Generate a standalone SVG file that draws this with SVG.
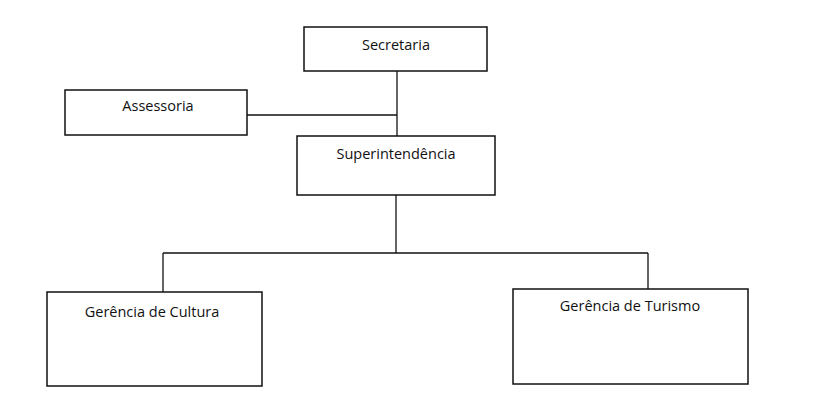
<svg xmlns="http://www.w3.org/2000/svg" width="826" height="414" viewBox="0 0 826 414">
<style>
rect{fill:#fff;stroke:#111;stroke-width:1.5}
text{font-family:"Open Sans","Liberation Sans",sans-serif;font-size:14.5px;fill:#111;text-anchor:middle}
#connectors line{stroke:#111;stroke-width:1.3}
</style>
<rect x="0" y="0" width="826" height="414" style="stroke:none"/>
<g id="connectors">
<line x1="397" y1="71" x2="397" y2="136"/>
<line x1="247" y1="115" x2="397" y2="115"/>
<line x1="396" y1="195" x2="396" y2="253"/>
<line x1="163" y1="253" x2="648" y2="253"/>
<line x1="163" y1="253" x2="163" y2="292"/>
<line x1="648" y1="253" x2="648" y2="289"/>
</g>
<g id="secretaria"><rect x="304" y="27" width="183" height="44"/><text x="396" y="50">Secretaria</text></g>
<g id="assessoria"><rect x="65" y="90" width="182" height="45"/><text x="158" y="111">Assessoria</text></g>
<g id="superintendencia"><rect x="297" y="136" width="198" height="59"/><text x="396" y="159">Superintendência</text></g>
<g id="cultura"><rect x="47" y="292" width="215" height="94"/><text x="152" y="317">Gerência de Cultura</text></g>
<g id="turismo"><rect x="513" y="289" width="235" height="95"/><text x="630" y="311">Gerência de Turismo</text></g>
</svg>
